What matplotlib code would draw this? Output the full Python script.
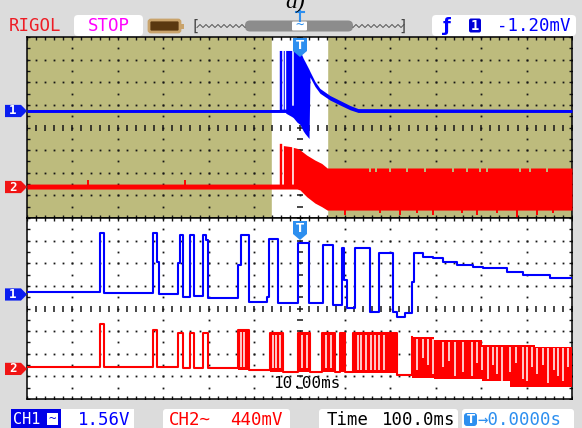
import numpy as np
import matplotlib
matplotlib.use("Agg")
import matplotlib.pyplot as plt
from matplotlib.patches import Polygon, FancyBboxPatch, Rectangle
from matplotlib.transforms import blended_transform_factory

W, H = 582, 428
MONO = "DejaVu Sans Mono"
BLUE = "#0000ff"
RED = "#ff0000"
OLIVE = "#bdbb7d"
FRAME = "#dcdcdc"
TMARK = "#2d8fef"

# ---- readings off the screen: time in ms, level in divisions (8 div per window) ----

# main window, 100 ms/div, min/max envelope
main_ch1_t = [-600, -44.5, -44.5, -39.2, -39.2, -35.7, -35.7, -33.5, -33.5, -30.4, -30.4,
              -17.2, -17.2, -13.7, -13.7, -5.5, 1.1, 8, 12, 21, 23, 34, 45, 67, 89, 111, 129, 600]
main_ch1_hi = [0.73, 0.73, 3.34, 3.34, 0.75, 0.75, 3.34, 3.34, 0.75, 0.75, 3.34,
               3.34, 0.92, 0.92, 3.34, 3.34, 3.34, 3.0, 2.85, 2.5, 2.41, 1.97, 1.66, 1.35, 1.13, 0.91, 0.77, 0.73]
main_ch1_lo = [0.73, 0.73, 0.73, 0.73, 0.73, 0.73, 0.73, 0.73, 0.73, 0.73, 0.70,
               0.55, 0.55, 0.50, 0.50, 0.30, 0.20, -0.08, -0.20, -0.42, 2.30, 1.88, 1.58, 1.28, 1.06, 0.85, 0.73, 0.73]

main_ch2_t = [-600, -44.5, -44.5, -39.2, -39.2, -35.5, -35.5, -17.2, -17.2, -13.7, -13.7,
              -5.5, 1.1, 16, 34, 49, 61, 600]
main_ch2_hi = [-2.50, -2.50, -0.70, -0.70, -2.50, -2.50, -0.80, -0.85, -2.50, -2.50, -0.88,
               -0.92, -0.99, -1.22, -1.44, -1.59, -1.79, -1.79]
main_ch2_lo = [-2.72, -2.72, -2.72, -2.72, -2.72, -2.72, -2.72, -2.72, -2.72, -2.72, -2.72,
               -2.72, -2.76, -3.06, -3.34, -3.50, -3.65, -3.65]
main_ch2_notch_t = [155, 169, 199, 236, 276, 338, 368, 397, 412, 486, 508, 544]
main_ch2_spike_t = [100, 177, 221, 258, 294, 357, 390, 434, 478, 522, 558]
main_ch2_spike_v = [-3.85, -3.8, -3.85, -3.8, -3.85, -3.8, -3.85, -3.8, -4.0, -3.85, -3.8]
main_ch2_blip_t = [-465, -252]
main_ch2_blip_v = [-2.32, -2.30]

# zoom window, 10 ms/div
zoom_ch1_t = [-60, -43.9, -43.0, -32.3, -31.4, -30.9, -26.8, -26.3, -25.7, -24.1,
              -23.2, -21.2, -20.6, -20.1, -13.5, -12.9, -11.1, -7.2, -6.7, -4.7,
              -0.3, 2.2, 5.2, 7.4, 9.3, 9.8, 10.4, 12.2, 15.5, 17.4,
              20.6, 21.4, 23.2, 24.7, 25.2, 27.3, 29.5, 31.7, 34.6, 38.3,
              40.5, 45.6, 49.3, 55.2, 60]
zoom_ch1_v = [0.73, 3.32, 0.69, 3.34, 2.07, 0.64, 2.00, 3.25, 0.51, 3.25,
              0.55, 3.25, 3.03, 0.45, 1.92, 3.25, 0.27, 0.52, 3.07, 0.23,
              2.88, 0.23, 2.81, 0.15, 2.66, 1.26, 0.01, 2.66, -0.14, 2.44,
              -0.14, -0.36, -0.21, 1.18, 2.44, 2.29, 2.21, 2.07, 1.92, 1.85,
              1.78, 1.63, 1.48, 1.36, 1.33]

zoom_ch2_t = [-60, -43.9, -43.0, -32.3, -31.4, -26.8, -25.6, -24.1, -23.2, -21.2, -20.1,
              -13.5, -11.1, -6.5, -3.6, -0.3, 2.3, 5.0, 7.8, 8.9, 10.0, 11.8, 21.5, 24.8]
zoom_ch2_v = [-2.58, -0.70, -2.58, -0.95, -2.58, -1.10, -2.62, -1.10, -2.62, -1.10, -2.62,
              -0.95, -2.72, -1.10, -2.79, -1.08, -2.79, -1.08, -2.79, -1.08, -2.79, -1.10, -2.94, -1.26]

burst_t0 = [-13.5, -6.5, -0.3, 5.0, 8.9, 11.8]
burst_t1 = [-11.1, -3.6, 2.3, 7.8, 10.0, 21.5]
burst_hi = [-0.95, -1.10, -1.08, -1.08, -1.08, -1.10]
burst_lo = [-2.72, -2.79, -2.79, -2.79, -2.79, -2.85]

dense_t = [24.8, 29.6, 40.1, 46.4, 51.8, 60]
dense_hi = [-1.26, -1.39, -1.61, -1.61, -1.68, -1.68]
dense_lo = [-3.07, -3.10, -3.20, -3.47, -3.47, -3.47]

gap_t = [-12.9, -12.2, -5.8, -5.2, -4.4, 0.6, 1.6, 5.8, 7.0, 12.8, 13.6, 14.6, 15.8, 16.6, 17.5, 18.6,
         25.8, 27.1, 28.3, 29.5, 31.7, 33.0, 34.2, 36.1, 37.9, 39.0, 40.1, 41.6, 42.6, 43.4, 44.5,
         46.4, 47.6, 49.3, 50.0, 51.1, 52.2, 53.6, 54.8, 56.0, 57.0, 58.1, 59.2]
gap_v = [-2.6, -2.6, -2.65, -2.65, -2.65, -2.65, -2.65, -2.65, -2.65, -2.7, -2.7, -2.7, -2.7, -2.7, -2.7, -2.7,
         -2.7, -2.2, -2.5, -2.9, -2.6, -2.3, -3.0, -2.8, -3.0, -2.4, -2.7, -3.1, -2.5, -2.9, -3.2,
         -2.8, -2.4, -3.1, -3.2, -2.6, -2.9, -2.5, -3.3, -2.7, -3.0, -3.2, -2.6]

main_offsets = [0.73, -2.63]
zoom_offsets = [0.62, -2.67]

main_div, zoom_div = 100, 10   # ms per division

top_texts = ["RIGOL", "STOP", "-1.20mV"]
ch1_scale, ch2_scale = "1.56V", "440mV"
time_scale, trig_pos = "100.0ms", "0.0000s"
zoom_scale = "10.00ms"


fig = plt.figure(figsize=(W / 100, H / 100), dpi=100, facecolor=FRAME)


def px_axes(x0, y0, x1, y1):
    return fig.add_axes([x0 / W, 1 - y1 / H, (x1 - x0) / W, (y1 - y0) / H])


def draw_grid(ax, div):
    fine_x = np.arange(-30, 31) * 0.2 * div
    half_y = np.arange(-8, 9) * 0.5
    kw = dict(ls="none", color="#161616", zorder=1)
    for row in (-3, -2, -1, 1, 2, 3):
        ax.plot(fine_x, np.full(fine_x.size, row), marker="s", ms=1.3, mew=0, **kw)
    for col in (-5, -4, -3, -2, -1, 1, 2, 3, 4, 5):
        ax.plot(np.full(half_y.size, col * div), half_y, marker="s", ms=1.3, mew=0, **kw)
    ax.plot(fine_x, np.zeros(fine_x.size), marker="|", ms=4, mew=1.1, **kw)
    ax.plot(np.zeros(half_y.size), half_y, marker="_", ms=4.5, mew=1.1, **kw)
    for yb in (4, -4):
        ax.plot(fine_x, np.full(fine_x.size, yb), marker="|", ms=5, mew=1, **kw)
    for xb in (-6 * div, 6 * div):
        ax.plot(np.full(half_y.size, xb), half_y, marker="_", ms=5, mew=1, **kw)


def setup(ax, div, face):
    ax.set_facecolor(face)
    ax.set_xticks([])
    ax.set_yticks([])
    for s in ax.spines.values():
        s.set_color("black")
        s.set_linewidth(1.1)
    draw_grid(ax, div)


def chan_marker(ax, level, label, color):
    tr = blended_transform_factory(fig.transFigure, ax.transData)
    h = 0.27
    xs = np.array([5, 21, 27, 21, 5]) / W
    ys = [level + h, level + h, level, level - h, level - h]
    ax.add_patch(Polygon(list(zip(xs, ys)), closed=True, transform=tr, fc=color, ec="none",
                         clip_on=False, zorder=6))
    ax.text(13 / W, level, label, transform=tr, color="white", ha="center", va="center",
            fontsize=9, fontweight="bold", family=MONO, clip_on=False, zorder=7)


# ---------- main window ----------
ax_main = px_axes(27, 37, 572, 218)
setup(ax_main, main_div, OLIVE)
ax_main.axvspan(-6 * zoom_div, 6 * zoom_div, color="white", zorder=0)

m1_lo = np.array(main_ch1_lo) - 0.065
m1_hi = np.array(main_ch1_hi) + 0.065
ax_main.fill_between(main_ch1_t, m1_lo, m1_hi, color=BLUE, lw=0, zorder=3)
ax_main.fill_between(main_ch2_t, main_ch2_lo, main_ch2_hi, color=RED, lw=0, zorder=3)
ax_main.vlines(main_ch2_notch_t, -1.95, -1.78, color=OLIVE, lw=1.4, zorder=3.5)
ax_main.vlines(main_ch2_spike_t, main_ch2_spike_v, -3.6, color=RED, lw=1.4, zorder=3.5)
ax_main.vlines(main_ch2_blip_t, main_ch2_blip_v, -2.55, color=RED, lw=1.4, zorder=3.5)
ax_main.set_xlim(-6 * main_div, 6 * main_div)
ax_main.set_ylim(-4, 4)

# ---------- zoom window ----------
ax_zoom = px_axes(27, 218, 572, 399)
setup(ax_zoom, zoom_div, "white")

for t0, t1, hi, lo in zip(burst_t0, burst_t1, burst_hi, burst_lo):
    ax_zoom.fill_between([t0, t1], lo, hi, color=RED, lw=0, zorder=3)
ax_zoom.fill_between(dense_t, dense_lo, dense_hi, step="post", color=RED, lw=0, zorder=3)
ax_zoom.plot(zoom_ch2_t, zoom_ch2_v, drawstyle="steps-post", color=RED, lw=1.5, zorder=3)

gap_top = []
for t in gap_t:
    top = None
    for t0, t1, hi in zip(burst_t0, burst_t1, burst_hi):
        if t0 <= t <= t1:
            top = hi
    if top is None:
        idx = np.searchsorted(dense_t, t, side="right") - 1
        top = dense_hi[max(idx, 0)]
    gap_top.append(top - 0.07)
ax_zoom.vlines(gap_t, gap_v, gap_top, color="white", lw=1.1, zorder=3.5)

ax_zoom.plot(zoom_ch1_t, zoom_ch1_v, drawstyle="steps-post", color=BLUE, lw=1.5, zorder=4)
ax_zoom.text(0.514, 0.085, zoom_scale, transform=ax_zoom.transAxes, ha="center", va="center",
             family=MONO, fontsize=11.5, color="black", zorder=5)
ax_zoom.set_xlim(-6 * zoom_div, 6 * zoom_div)
ax_zoom.set_ylim(-4, 4)

for ax, offs in ((ax_main, main_offsets), (ax_zoom, zoom_offsets)):
    chan_marker(ax, offs[0], "1", "#0a1ef0")
    chan_marker(ax, offs[1], "2", "#f01414")

# ---------- status bars (pixel overlay) ----------
ov = fig.add_axes([0, 0, 1, 1], zorder=10)
ov.set_xlim(0, W)
ov.set_ylim(H, 0)
ov.axis("off")
ov.patch.set_alpha(0)


def box(x0, y0, x1, y1, fc, ec="none", lw=0, r=3):
    ov.add_patch(FancyBboxPatch((x0, y0), x1 - x0, y1 - y0,
                                boxstyle=f"round,pad=0,rounding_size={r}", fc=fc, ec=ec, lw=lw))


def txt(x, y, s, color, ha="left", size=12.5, **kw):
    ov.text(x, y, s, color=color, ha=ha, va="center", fontsize=size, family=MONO, **kw)


# caption above the screenshot, cut by the top edge as in the source
ov.text(295, 8, "a)", family="Liberation Serif", style="italic", fontsize=17, ha="center", va="baseline")

txt(9, 26, top_texts[0], "#ee1c24")
box(74, 15, 143, 36, "white", r=4)
txt(108.5, 26, top_texts[1], "#ff00ff", ha="center")
box(149, 20, 180, 32, "#5a3810", ec="#c9a36b", lw=2, r=2)
ov.add_patch(Rectangle((180, 23.5), 4, 5, fc="#c9a36b", ec="none"))

txt(191, 26, "[", "#444444", size=11)
txt(408, 26, "]", "#444444", size=11, ha="right")
for xa, xb in ((197, 245), (353, 404)):
    zx = np.arange(xa, xb + 0.1, 3)
    zy = np.where(np.arange(zx.size) % 2 == 0, 27.5, 24.5)
    ov.plot(zx, zy, color="#555555", lw=0.7)
box(245, 20.5, 353, 31.5, "#8c8c8c", r=5)
box(292, 21.5, 307, 30.5, "white", r=1)
txt(299.5, 26, "~", TMARK, ha="center", size=10)
ov.plot([300, 300], [11, 21], color=TMARK, lw=1.5)
ov.plot([296, 304], [11.5, 11.5], color=TMARK, lw=1.5)

box(432, 15, 576, 36, "white", r=4)
ov.text(447, 26, "ƒ", color=BLUE, ha="center", va="center", fontsize=13, fontweight="bold",
        family="DejaVu Sans")
box(469, 18.5, 481, 32.5, "#0000d8", r=2)
txt(475, 25.5, "1", "white", ha="center", size=10, fontweight="bold")
txt(497, 26, top_texts[2], BLUE)

# trigger position markers on the two windows
for ytop in (38, 221):
    ov.add_patch(Polygon([(293, ytop), (307, ytop), (307, ytop + 13), (300, ytop + 19), (293, ytop + 13)],
                         closed=True, fc=TMARK, ec="none"))
    ov.text(300, ytop + 7, "T", color="white", ha="center", va="center", fontsize=8.5,
            fontweight="bold", family="DejaVu Sans")

# bottom line
ov.add_patch(Rectangle((11, 409), 50, 22, fc="#0000e8", ec="none"))
txt(13, 420, "CH1", "white", size=11)
ov.add_patch(Rectangle((47, 413), 11, 12, fc="white", ec="none"))
txt(52.5, 419, "~", "#0000e8", ha="center", size=9)
ov.add_patch(Rectangle((61, 409), 73, 22, fc="white", ec="none"))
txt(78, 420, ch1_scale, BLUE)

box(163, 409, 290, 432, "white", r=3)
txt(169, 420, "CH2~", RED)
txt(230, 420, ch2_scale, RED)

box(319, 409, 458, 432, "white", r=3)
txt(327, 420, "Time", "black")
txt(382, 420, time_scale, "black")

box(462, 409, 574, 432, "white", r=3)
box(464, 413, 477, 426, TMARK, r=3)
ov.text(470.5, 419.5, "T", color="white", ha="center", va="center", fontsize=8.5,
        fontweight="bold", family="DejaVu Sans")
txt(477, 420, "→" + trig_pos, TMARK)

fig.savefig("out.png", dpi=100, facecolor=FRAME)
